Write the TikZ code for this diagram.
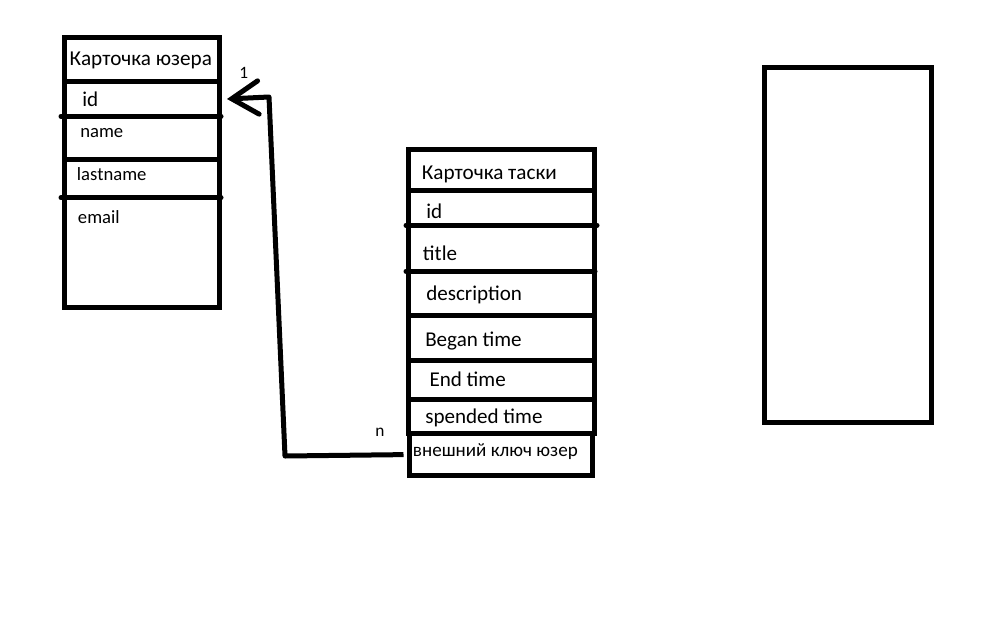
\documentclass[tikz,border=0pt]{standalone}
\usepackage{fontspec}
\setmainfont{Carlito}
\usetikzlibrary{arrows.meta}
\begin{document}
\begin{tikzpicture}[x=0.75pt,y=-0.75pt,
  card/.style={draw, line width=3.75pt, rectangle, inner sep=0pt, outer sep=0pt},
  rule/.style={line width=3.75pt},
  longrule/.style={line width=3.75pt, line cap=round},
  head/.style={anchor=base west, inner sep=0pt, font=\fontsize{15.9}{19}\selectfont},
  bigfield/.style={anchor=base west, inner sep=0pt, font=\fontsize{15.8}{19}\selectfont},
  smallfield/.style={anchor=base west, inner sep=0pt, font=\fontsize{14}{17}\selectfont},
  keyfield/.style={anchor=base west, inner sep=0pt, font=\fontsize{14.3}{17}\selectfont},
  mult/.style={anchor=base west, inner sep=0pt, font=\fontsize{13}{15}\selectfont},
  link/.style={line width=3.75pt, line join=round,
    -{Straight Barb[length=20pt, width=25pt, line cap=round]}}
]
\fill[white] (0,0) rectangle (995,628);
\useasboundingbox (0,0) rectangle (995,628);

% user card
\node[card, minimum width=116.25pt, minimum height=202.5pt] (user) at (141.7,172.5) {};
\draw[rule] (64.2,81.7) -- (219.2,81.7);
\draw[longrule] (61,116.3) -- (221,116.3);
\draw[rule] (64.2,159.5) -- (219.2,159.5);
\draw[longrule] (61,197.8) -- (221,197.8);
\node[head] (utitle) at (69.3,65) {Карточка юзера};
\node[bigfield] (uid) at (82,106) {id};
\node[smallfield] (uname) at (80,137.7) {name};
\node[smallfield] (ulast) at (76.7,180.7) {lastname};
\node[smallfield] (umail) at (77.7,223) {email};

% task card
\node[card, minimum width=139.7pt, minimum height=212.85pt] (task) at (501.85,291.4) {};
\draw[rule] (408.7,190.3) -- (595,190.3);
\draw[longrule] (406,225.3) -- (597,225.3);
\draw[longrule] (406,271.2) -- (595,271.2);
\draw[rule] (408.7,315.8) -- (595,315.8);
\draw[rule] (408.7,360.8) -- (595,360.8);
\draw[rule] (408.7,399.2) -- (595,399.2);
\node[head] (ttitle) at (421.7,179.3) {Карточка таски};
\node[bigfield] (tid) at (426,218.3) {id};
\node[bigfield] (ttl) at (422.7,260.7) {title};
\node[bigfield] (tdesc) at (426,300.7) {description};
\node[bigfield] (tbeg) at (425,346.7) {Began time};
\node[bigfield] (tend) at (429.3,386.7) {End time};
\node[bigfield] (tspend) at (425,423.3) {spended time};

% foreign key row
\node[card, minimum width=137.25pt, minimum height=31.9pt] (fk) at (501,454.55) {};
\node[keyfield] (fktext) at (412.7,456.7) {внешний ключ юзер};

% empty card
\node[card, minimum width=125.5pt, minimum height=266.25pt] (spare) at (847.85,245) {};

% relation task -> user
\coordinate (idtip) at (227,99);
\draw[link, shorten <=4.5pt] (fk.west) -- (285,456) -- (269,97) -- (idtip);
\node[mult] (one) at (239,78.5) {1};
\node[mult] (many) at (375,436) {n};
\end{tikzpicture}
\end{document}
